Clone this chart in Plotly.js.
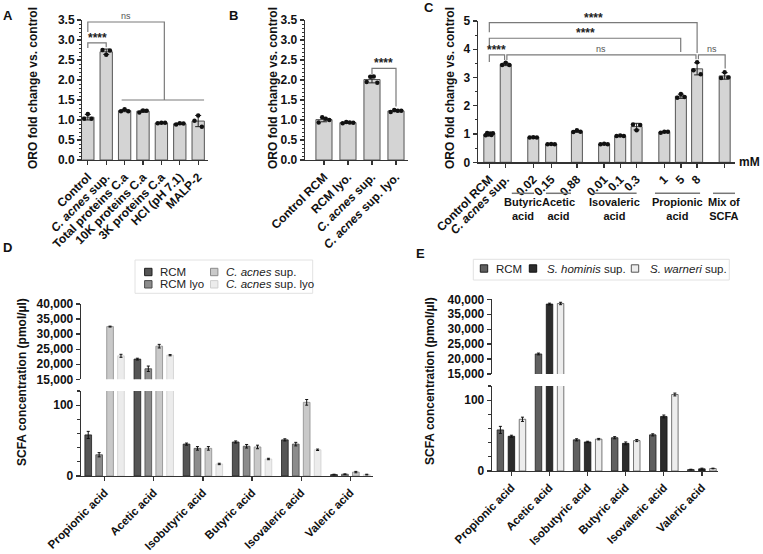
<!DOCTYPE html>
<html>
<head>
<meta charset="utf-8">
<script src="https://cdn.plot.ly/plotly-3.0.1.min.js"></script>
<style>
  html, body { margin: 0; padding: 0; background: #fff; }
  #chart { width: 763px; height: 554px; }
</style>
</head>
<body>
<div id="chart"></div>
<script>
// ---- data ----
const labelsA = ["Control", "<i>C. acnes</i> sup.", "Total proteins C.a", "10K proteins C.a", "3K proteins C.a", "HCl (pH 7.1)", "MALP-2"];
const replicatesA = [
  [1.03, 1.15, 1.03], [2.75, 2.63, 2.74], [1.22, 1.27, 1.22], [1.19, 1.24, 1.23],
  [0.92, 0.93, 0.93], [0.89, 0.92, 0.91], [0.98, 1.11, 0.83]
];

const labelsB = ["Control RCM", "RCM lyo.", "<i>C. acnes</i> sup.", "<i>C. acnes</i> sup. lyo."];
const replicatesB = [
  [0.94, 1.07, 1.03, 1.0], [0.92, 0.95, 0.94, 0.93], [1.95, 2.08, 2.09, 1.93], [1.2, 1.25, 1.23, 1.23]
];

const labelsC = ["Control RCM", "<i>C. acnes</i> sup.", "0.02", "0.15", "0.88", "0.01", "0.1", "0.3", "1", "5", "8", ""];
const replicatesC = [
  [0.96, 1.04, 0.98, 1.02, 0.97, 1.03], [3.44, 3.52, 3.44], [0.88, 0.89, 0.88], [0.64, 0.65, 0.64],
  [1.07, 1.13, 1.08], [0.64, 0.66, 0.64], [0.93, 0.95, 0.93], [1.34, 1.13, 1.32],
  [1.05, 1.08, 1.08], [2.28, 2.42, 2.31], [3.26, 3.54, 3.12], [2.98, 3.19, 3.0]
];
const groupsC = ["Butyric<br>acid", "Acetic<br>acid", "Isovaleric<br>acid", "Propionic<br>acid", "Mix of<br>SCFA"];

const acids = ["Propionic acid", "Acetic acid", "Isobutyric acid", "Butyric acid", "Isovaleric acid", "Valeric acid"];

const seriesD = ["RCM", "RCM lyo", "<i>C. acnes</i> sup.", "<i>C. acnes</i> sup. lyo"];
const rcmD = [58, 21700, 45, 48, 51, 2];
const rcmLyoD = [30, 18500, 39, 42, 45, 2.5];
const acnesSupD = [32500, 26000, 39, 41, 104, 5.5];
const acnesSupLyoD = [22800, 23000, 17, 24, 37, 2];
const rcmDsd = [5, 300, 1.5, 1.5, 1.5, 0.5];
const rcmLyoDsd = [3, 900, 2.5, 2.5, 2.5, 0.5];
const acnesSupDsd = [150, 600, 2.5, 2.5, 4, 1];
const acnesSupLyoDsd = [500, 200, 1, 1, 1, 0.5];

const seriesE = ["RCM", "<i>S. hominis</i> sup.", "<i>S. warneri</i> sup."];
const rcmE = [58, 21700, 44, 47, 51, 2];
const hominisE = [49, 38400, 41, 39, 77, 3];
const warneriE = [73, 38600, 45, 43, 108, 3.5];
const rcmEsd = [5, 300, 1.5, 1.5, 1.5, 0.5];
const hominisEsd = [1.5, 300, 1, 2, 2, 1];
const warneriEsd = [3, 400, 1, 1.5, 2, 0.5];

const ticksOro = [0, 0.5, 1, 1.5, 2, 2.5, 3, 3.5];
const ticksOroC = [0, 1, 2, 3, 4, 5];
const ticksLow = [0, 100];
const ticksHigh = [15000, 20000, 25000, 30000, 35000, 40000];

// ---- layout helpers ----
const W = 763, H = 554;
const FONT = '"Liberation Sans", Arial, sans-serif';
const px = (v) => v / W;
const py = (v) => 1 - v / H;
const domX = (a, b) => [a / W, b / W];
const domY = (top, bottom) => [1 - bottom / H, 1 - top / H];
const bold = (s) => (s ? `<b>${s}</b>` : "");

// slot positions of panel C bars (uneven spacing between acid groups)
const slotsC = [0, 1, 2.68, 3.77, 5.34, 7, 7.98, 8.98, 10.67, 11.68, 12.67, 14.35];
const groupSpanC = [[1.37, 2.73], [3.45, 4.98], [6.3, 8.98], [10.1, 12.85], [13.64, 15.02]];

const mean = (arr) => arr.reduce((s, v) => s + v, 0) / arr.length;
const sd = (arr) => {
  const m = mean(arr);
  return Math.sqrt(arr.reduce((s, v) => s + (v - m) * (v - m), 0) / (arr.length - 1));
};
const spread = (n, w) => (n === 1 ? [0] : Array.from({ length: n }, (_, i) => -w + (2 * w * i) / (n - 1)));

const axisBase = {
  showline: true, linecolor: "#333", linewidth: 1.3,
  ticks: "outside", ticklen: 4, tickwidth: 1.3, tickcolor: "#333",
  showgrid: false, zeroline: false, fixedrange: true,
  tickfont: { family: FONT, size: 12, color: "#111" }
};

function yTicks(vals, fmt) {
  return { tickvals: vals, ticktext: vals.map((v) => bold(fmt(v))) };
}
function xTicks(vals, labels, size) {
  return { tickvals: vals, ticktext: labels.map(bold), tickangle: -45,
    tickfont: { family: FONT, size: size || 12, color: "#111" } };
}

function oroPanel(xName, yName, positions, replicates, barWidth, dotSpread) {
  const bars = {
    type: "bar", x: positions, y: replicates.map(mean), width: barWidth,
    marker: { color: "#d4d4d4", line: { color: "#555", width: 1 } },
    error_y: { type: "data", array: replicates.map(sd), visible: true, color: "#222", thickness: 1, width: 3 },
    xaxis: xName, yaxis: yName, hoverinfo: "skip"
  };
  const dx = [], dy = [];
  replicates.forEach((reps, i) => {
    const offs = spread(reps.length, dotSpread);
    reps.forEach((v, j) => { dx.push(positions[i] + offs[j]); dy.push(v); });
  });
  const dots = {
    type: "scatter", mode: "markers", x: dx, y: dy, cliponaxis: false,
    marker: { color: "#111", size: 4.5 }, xaxis: xName, yaxis: yName, hoverinfo: "skip"
  };
  return [bars, dots];
}

function groupedBars(xName, yNames, means, sds, colors, outlines, step, width) {
  const traces = [];
  const n = means.length;
  yNames.forEach((yName) => {
    means.forEach((vals, k) => {
      traces.push({
        type: "bar", x: acids.map((_, i) => i), y: vals,
        offset: (k - (n - 1) / 2) * step - width / 2, width: width,
        marker: { color: colors[k], line: { color: outlines[k], width: 0.8 } },
        error_y: { type: "data", array: sds[k], visible: true, color: "#111", thickness: 1, width: 1.5 },
        xaxis: xName, yaxis: yName, hoverinfo: "skip"
      });
    });
  });
  return traces;
}

function bracket(xref, yref, b) {
  return {
    type: "path", xref: xref, yref: yref,
    path: `M${b.x0},${b.leg0} L${b.x0},${b.y} L${b.x1},${b.y} L${b.x1},${b.leg1}`,
    line: { color: "#7a7a7a", width: 1.2 }
  };
}

function bracketLabel(xref, yref, b) {
  const stars = b.label !== "ns";
  return {
    xref: xref, yref: yref, x: (b.x0 + b.x1) / 2, y: b.y, xanchor: "center", yanchor: "bottom", showarrow: false,
    text: stars ? bold(b.label) : b.label, yshift: stars ? -4 : -1,
    font: { family: FONT, size: stars ? 12 : 9, color: stars ? "#222" : "#555" }
  };
}

const bracketsA = [
  { x0: 0, x1: 1, y: 2.93, leg0: 2.8, leg1: 2.82, label: "****" },
  { x0: 0, x1: 4.16, y: 3.45, leg0: 3.2, leg1: 1.5, label: "ns" }
];
const bracketsB = [
  { x0: 2, x1: 3, y: 2.29, leg0: 2.13, leg1: 1.34, label: "****" }
];
const bracketsC = [
  { x0: 0, x1: 12.67, y: 4.94, leg0: 4.6, leg1: 3.87, label: "****" },
  { x0: 0, x1: 11.67, y: 4.39, leg0: 4.1, leg1: 3.9, label: "****" },
  { x0: 0, x1: 0.93, y: 3.8, leg0: 3.55, leg1: 3.62, label: "****" },
  { x0: 1.07, x1: 12.6, y: 3.8, leg0: 3.62, leg1: 3.65, label: "ns" },
  { x0: 12.75, x1: 14.38, y: 3.8, leg0: 3.65, leg1: 3.32, label: "ns" }
];

const colorsD = ["#555555", "#8c8c8c", "#c9c9c9", "#ececec"];
const outlinesD = ["#1e1e1e", "#4a4a4a", "#8a8a8a", "#cfcfcf"];
const colorsE = ["#606060", "#2c2c2c", "#ededed"];
const outlinesE = ["#1e1e1e", "#111111", "#555555"];

const idxA = labelsA.map((_, i) => i);
const idxB = labelsB.map((_, i) => i);
const idxAcid = acids.map((_, i) => i);

const traces = [
  ...oroPanel("x", "y", idxA, replicatesA, 0.67, 0.2),
  ...oroPanel("x2", "y2", idxB, replicatesB, 0.67, 0.22),
  ...oroPanel("x3", "y3", slotsC, replicatesC, 0.67, 0.22),
  ...groupedBars("x4", ["y4", "y5"], [rcmD, rcmLyoD, acnesSupD, acnesSupLyoD],
    [rcmDsd, rcmLyoDsd, acnesSupDsd, acnesSupLyoDsd], colorsD, outlinesD, 0.222, 0.136),
  ...groupedBars("x5", ["y6", "y7"], [rcmE, hominisE, warneriE],
    [rcmEsd, hominisEsd, warneriEsd], colorsE, outlinesE, 0.29, 0.17)
];

const minorOro = { ticks: "outside", ticklen: 2, tickwidth: 1, tickcolor: "#333", dtick: 0.1 };
const minorLow = { ticks: "outside", ticklen: 3, tickwidth: 1.2, tickcolor: "#333", dtick: 20 };
const fmt1 = (v) => v.toFixed(1);
const fmtInt = (v) => String(v);
const fmtComma = (v) => v.toLocaleString("en-US");

const layout = {
  width: W, height: H, margin: { l: 0, r: 0, t: 0, b: 0 },
  paper_bgcolor: "#fff", plot_bgcolor: "rgba(0,0,0,0)",
  showlegend: false, barmode: "overlay",
  font: { family: FONT, size: 12, color: "#111" },
  // A
  xaxis: { ...axisBase, domain: domX(82.3, 208.3), range: [-0.3, 6.55], anchor: "y", ...xTicks(idxA, labelsA) },
  yaxis: { ...axisBase, domain: domY(20, 160), range: [0, 3.5], anchor: "x", ...yTicks(ticksOro, fmt1), minor: minorOro },
  // B
  xaxis2: { ...axisBase, domain: domX(305, 408), range: [-0.79, 3.5], anchor: "y2", ...xTicks(idxB, labelsB) },
  yaxis2: { ...axisBase, domain: domY(20, 160), range: [0, 3.5], anchor: "x2", ...yTicks(ticksOro, fmt1), minor: minorOro },
  // C
  xaxis3: { ...axisBase, domain: domX(478, 735), range: [-0.69, 14.98], anchor: "y3", ...xTicks(slotsC, labelsC) },
  yaxis3: { ...axisBase, domain: domY(21, 162.3), range: [0, 5], anchor: "x3", ...yTicks(ticksOroC, fmtInt),
    minor: { ticks: "outside", ticklen: 2, tickwidth: 1, tickcolor: "#333", dtick: 0.5 } },
  // D
  xaxis4: { ...axisBase, domain: domX(81, 373), range: [-0.48, 5.46], anchor: "y4", ...xTicks(idxAcid, acids, 11.5) },
  yaxis4: { ...axisBase, domain: domY(391, 476), range: [0, 120], anchor: "x4", ...yTicks(ticksLow, fmtInt), minor: minorLow },
  yaxis5: { ...axisBase, domain: domY(304, 379.3), range: [15000, 40000], anchor: "x4", ...yTicks(ticksHigh, fmtComma) },
  // E
  xaxis5: { ...axisBase, domain: domX(492, 718.3), range: [-0.51, 5.43], anchor: "y6", ...xTicks(idxAcid, acids, 11.5) },
  yaxis6: { ...axisBase, domain: domY(386, 471), range: [0, 120], anchor: "x5", ...yTicks(ticksLow, fmtInt), minor: minorLow },
  yaxis7: { ...axisBase, domain: domY(299.3, 374), range: [15000, 40000], anchor: "x5", ...yTicks(ticksHigh, fmtComma) },
  shapes: [],
  annotations: []
};

// significance brackets
bracketsA.forEach((b) => { layout.shapes.push(bracket("x", "y", b)); layout.annotations.push(bracketLabel("x", "y", b)); });
bracketsB.forEach((b) => { layout.shapes.push(bracket("x2", "y2", b)); layout.annotations.push(bracketLabel("x2", "y2", b)); });
bracketsC.forEach((b) => { layout.shapes.push(bracket("x3", "y3", b)); layout.annotations.push(bracketLabel("x3", "y3", b)); });
layout.shapes.push({ type: "line", xref: "x", yref: "y", x0: 1.84, x1: 6.32, y0: 1.5, y1: 1.5, line: { color: "#7a7a7a", width: 1.2 } });

// panel C acid group underlines and names
groupsC.forEach((name, i) => {
  const [a, b] = groupSpanC[i];
  layout.shapes.push({ type: "line", xref: "x3", yref: "paper", x0: a, x1: b, y0: py(193.3), y1: py(193.3),
    line: { color: "#777", width: 1.5 } });
  layout.annotations.push({ xref: "x3", yref: "paper", x: (a + b) / 2, y: py(208.5), xanchor: "center", yanchor: "middle",
    showarrow: false, text: bold(name), font: { family: FONT, size: 11, color: "#111" } });
});

function label(x, y, text, size, extra) {
  return Object.assign({ xref: "paper", yref: "paper", x: px(x), y: py(y), xanchor: "center", yanchor: "middle",
    showarrow: false, text: text, font: { family: FONT, size: size, color: "#111" } }, extra || {});
}
layout.annotations.push(label(749, 162, bold("mM"), 12));

// axis titles and panel letters
layout.annotations.push(
  label(33, 88, bold("ORO fold change vs. control"), 12, { textangle: -90 }),
  label(273, 88, bold("ORO fold change vs. control"), 12, { textangle: -90 }),
  label(450, 88, bold("ORO fold change vs. control"), 12, { textangle: -90 }),
  label(22, 382, bold("SCFA concentration (pmol/µl)"), 12, { textangle: -90 }),
  label(430, 381, bold("SCFA concentration (pmol/µl)"), 12, { textangle: -90 })
);
[["A", 8, 15], ["B", 233, 15], ["C", 429, 8], ["D", 7, 248], ["E", 420, 253]].forEach(([t, x, y]) => {
  layout.annotations.push(label(x, y, bold(t), 13));
});

// legends drawn as swatches + labels
function legendBox(box, items) {
  layout.shapes.push({ type: "rect", xref: "paper", yref: "paper", x0: px(box[0]), x1: px(box[1]), y0: py(box[3]), y1: py(box[2]),
    line: { color: "#e2e2e2", width: 1 }, fillcolor: "rgba(0,0,0,0)" });
  items.forEach((it) => {
    layout.shapes.push({ type: "rect", xref: "paper", yref: "paper",
      x0: px(it.sx - 3.7), x1: px(it.sx + 3.7), y0: py(it.sy + 3.7), y1: py(it.sy - 3.7),
      fillcolor: it.color, line: { color: it.outline, width: 1 } });
    layout.annotations.push(label(it.tx, it.sy, it.name, 11.5, { xanchor: "left", font: { family: FONT, size: 11.5, color: "#222" } }));
  });
}
legendBox([135, 312.7, 260, 293.3], seriesD.map((name, k) => ({
  name: name, color: colorsD[k], outline: outlinesD[k],
  sx: k < 2 ? 148.3 : 214.2, sy: k % 2 === 0 ? 272 : 284.3, tx: k < 2 ? 158 : 224
})));
legendBox([473.3, 729.3, 259.3, 280], seriesE.map((name, k) => ({
  name: name, color: colorsE[k], outline: outlinesE[k],
  sx: [484, 533, 635][k], sy: 268.5, tx: [494, 544.5, 647.5][k]
})));

Plotly.newPlot("chart", traces, layout, { displayModeBar: false, staticPlot: true });
</script>
</body>
</html>
